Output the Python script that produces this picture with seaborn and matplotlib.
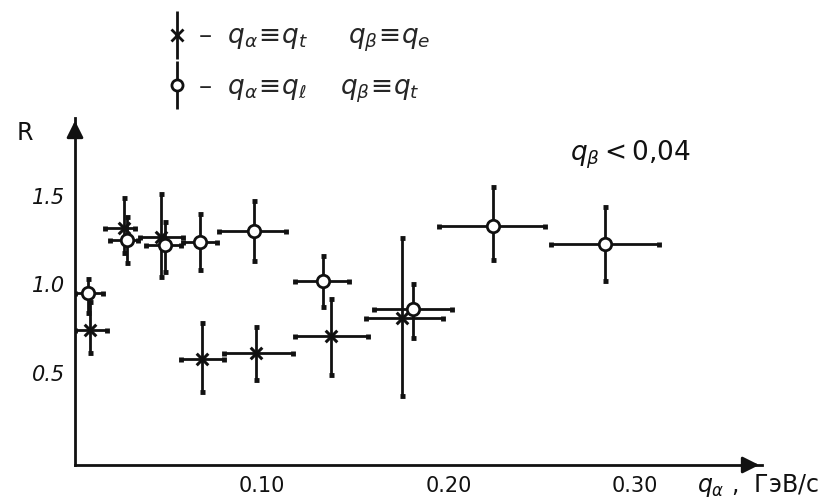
import numpy as np
import pandas as pd
import matplotlib
matplotlib.use("Agg")
import matplotlib.pyplot as plt
from matplotlib.lines import Line2D
from matplotlib.legend_handler import HandlerTuple
import seaborn as sns

# ---- data ----
# series "x":  q_alpha = q_t, q_beta = q_e
cross_q    = [0.008, 0.026, 0.046, 0.068, 0.097, 0.137, 0.175]
cross_qlo  = [0.000, 0.016, 0.035, 0.057, 0.080, 0.118, 0.156]
cross_qhi  = [0.017, 0.032, 0.058, 0.080, 0.117, 0.157, 0.197]
cross_R    = [0.74, 1.32, 1.27, 0.58, 0.61, 0.71, 0.81]
cross_Rlo  = [0.61, 1.18, 1.04, 0.39, 0.46, 0.49, 0.37]
cross_Rhi  = [0.90, 1.49, 1.51, 0.78, 0.76, 0.92, 1.26]

# series "o":  q_alpha = q_l, q_beta = q_t
circ_q     = [0.007, 0.028, 0.048, 0.067, 0.096, 0.133, 0.181, 0.224, 0.284]
circ_qlo   = [0.000, 0.019, 0.038, 0.058, 0.077, 0.118, 0.160, 0.195, 0.255]
circ_qhi   = [0.015, 0.034, 0.057, 0.076, 0.113, 0.147, 0.202, 0.252, 0.313]
circ_R     = [0.95, 1.25, 1.22, 1.24, 1.30, 1.02, 0.86, 1.33, 1.23]
circ_Rlo   = [0.84, 1.12, 1.07, 1.08, 1.13, 0.87, 0.70, 1.14, 1.02]
circ_Rhi   = [1.03, 1.38, 1.35, 1.40, 1.47, 1.16, 1.00, 1.55, 1.44]

x_ticks = [0.10, 0.20, 0.30]
x_ticklabels = ["0.10", "0.20", "0.30"]
y_ticks = [0.5, 1.0, 1.5]
y_ticklabels = ["0.5", "1.0", "1.5"]

sns.set_theme(style="white")
plt.rcParams["font.family"] = ["DejaVu Sans"]
plt.rcParams["mathtext.fontset"] = "dejavusans"

fig = plt.figure(figsize=(8.25, 5), dpi=100)
ax = fig.add_axes([75/825, 1 - 465/500, 687/825, 347/500])

ink = "#111111"

def draw_bars(q, qlo, qhi, R, Rlo, Rhi):
    q = np.array(q); R = np.array(R)
    xerr = [q - np.array(qlo), np.array(qhi) - q]
    yerr = [R - np.array(Rlo), np.array(Rhi) - R]
    ax.errorbar(q, R, xerr=xerr, yerr=yerr, fmt="none", ecolor=ink,
                elinewidth=2.0, capsize=1.8, capthick=3.5, zorder=2)

draw_bars(cross_q, cross_qlo, cross_qhi, cross_R, cross_Rlo, cross_Rhi)
draw_bars(circ_q, circ_qlo, circ_qhi, circ_R, circ_Rlo, circ_Rhi)

df_x = pd.DataFrame({"q": cross_q, "R": cross_R})
df_o = pd.DataFrame({"q": circ_q, "R": circ_R})
sns.scatterplot(data=df_x, x="q", y="R", marker="x", color=ink, s=70,
                linewidth=2.2, ax=ax, zorder=4)
sns.scatterplot(data=df_o, x="q", y="R", marker="o", facecolor="white",
                edgecolor=ink, s=80, linewidth=2.0, ax=ax, zorder=4)

ax.set_xlim(0, 0.368)
ax.set_ylim(-0.02, 1.94)
ax.set_xlabel("")
ax.set_ylabel("")

for s in ["top", "right"]:
    ax.spines[s].set_visible(False)
for s in ["left", "bottom"]:
    ax.spines[s].set_color(ink)
    ax.spines[s].set_linewidth(2.0)

ax.set_xticks(x_ticks)
ax.set_xticklabels(x_ticklabels, fontsize=15)
ax.set_yticks(y_ticks)
ax.set_yticklabels(y_ticklabels, fontsize=15, fontstyle="italic")
ax.tick_params(axis="x", direction="in", length=7, width=1.8, colors=ink, pad=8)
ax.tick_params(axis="y", direction="inout", length=10, width=1.8, colors=ink, pad=2)

# axis arrows
ax.annotate("", xy=(1.0, 0.0), xytext=(0.97, 0.0), xycoords="axes fraction",
            arrowprops=dict(arrowstyle="-|>", color=ink, lw=2.0, mutation_scale=25))
ax.annotate("", xy=(0.0, 1.0), xytext=(0.0, 0.95), xycoords="axes fraction",
            arrowprops=dict(arrowstyle="-|>", color=ink, lw=2.0, mutation_scale=25))

ax.text(-0.073, 0.957, "R", transform=ax.transAxes, fontsize=17,
        ha="center", va="center", color=ink)
ax.text(0.905, -0.06, r"$q_\alpha$ ,  ГэВ/с", transform=ax.transAxes,
        fontsize=17, ha="left", va="center", color=ink)
ax.text(0.72, 0.893, r"$q_\beta < $0,04", transform=ax.transAxes,
        fontsize=19, ha="left", va="center", color=ink)

# legend
bar = Line2D([], [], marker="|", linestyle="none", color=ink, markersize=34,
             markeredgewidth=2.0)
mx = Line2D([], [], marker="x", linestyle="none", color=ink, markersize=8,
            markeredgewidth=2.0)
mo = Line2D([], [], marker="o", linestyle="none", color=ink, markersize=8,
            markerfacecolor="white", markeredgewidth=2.0)
leg = fig.legend(handles=[(bar, mx), (bar, mo)],
                 labels=[r"–  $q_\alpha\!\equiv\! q_t$     $q_\beta\!\equiv\! q_e$",
                         r"–  $q_\alpha\!\equiv\! q_\ell$    $q_\beta\!\equiv\! q_t$"],
                 handler_map={tuple: HandlerTuple(ndivide=1, pad=0)},
                 loc="upper left", bbox_to_anchor=(0.17, 1.0), frameon=False,
                 fontsize=19, handlelength=1.0, handletextpad=0.3,
                 labelspacing=0.75)

fig.savefig("out.png", dpi=100, facecolor="white")
